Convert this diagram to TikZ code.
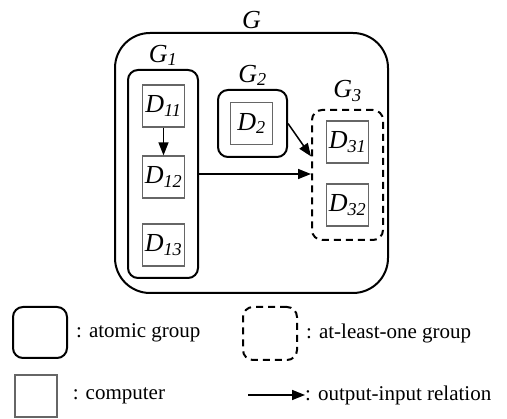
\documentclass[tikz,border=0pt]{standalone}
\usepackage{fontspec}
\setmainfont{Liberation Serif}
\usetikzlibrary{arrows.meta,positioning}

\begin{document}
\begin{tikzpicture}[x=1pt,y=-1pt,
    comp/.style={draw=black!60, line width=1.3pt, minimum width=42pt, minimum height=42pt, inner sep=0pt, font=\fontsize{26}{30}\selectfont\itshape},
    atomic/.style={draw, line width=2pt, rounded corners=10pt, inner sep=0pt},
    alo/.style={draw, line width=2pt, rounded corners=10pt, dash pattern=on 7pt off 5pt, inner sep=0pt},
    glab/.style={font=\fontsize{26}{30}\selectfont\itshape, inner sep=3pt, anchor=south},
    legtext/.style={font=\fontsize{21}{25}\selectfont, inner sep=0pt, anchor=west},
    rel/.style={line width=1.5pt, -{Triangle[length=13pt,width=10pt]}}]

    \useasboundingbox (0,0) rectangle (507,419);

    % groups
    \node(g)[atomic, rounded corners=35pt, minimum width=273pt, minimum height=260pt] at (251.5,163) {};
    \node(g1)[atomic, minimum width=70pt, minimum height=208pt] at (163,174) {};
    \node(g2)[atomic, minimum width=69pt, minimum height=67pt] at (252.5,123.5) {};
    \node(g3)[alo, minimum width=71pt, minimum height=130pt] at (347.5,175) {};

    \node(lg)[glab] at (g.north) {G};
    \node(lg1)[glab] at (g1.north) {G\textsubscript{1}};
    \node(lg2)[glab] at (g2.north) {G\textsubscript{2}};
    \node(lg3)[glab, yshift=4pt] at (g3.north) {G\textsubscript{3}};

    % computers
    \node(d11)[comp] at (163.5,106) {D\textsubscript{11}};
    \node(d12)[comp] at (163.5,177) {D\textsubscript{12}};
    \node(d13)[comp] at (163.5,245) {D\textsubscript{13}};
    \node(d2)[comp] at (251.5,123.5) {D\textsubscript{2}};
    \node(d31)[comp] at (347.5,142) {D\textsubscript{31}};
    \node(d32)[comp] at (347.5,205) {D\textsubscript{32}};

    \draw[rel] (d11) -- (d12);
    \draw[rel] (g2.east) -- (g3.153);
    \draw[rel] (g1.east) -- (g1.east -| g3.west);

    % legend
    \node(latom)[atomic, minimum width=54pt, minimum height=51pt] at (40,332.5) {};
    \node(tatom)[legtext, right=8pt of latom] {: atomic group};
    \node(lalo)[alo, minimum width=54pt, minimum height=53pt] at (270,333.5) {};
    \node(talo)[legtext, right=8pt of lalo] {: at-least-one group};
    \node(lcomp)[comp] at (36,396) {};
    \node(tcomp)[legtext, right=15pt of lcomp] {: computer};
    \coordinate(lrel) at (248,395);
    \node(trel)[legtext] at (305,395) {: output-input relation};
    \draw[rel] (lrel) -- (trel.west);
\end{tikzpicture}
\end{document}
